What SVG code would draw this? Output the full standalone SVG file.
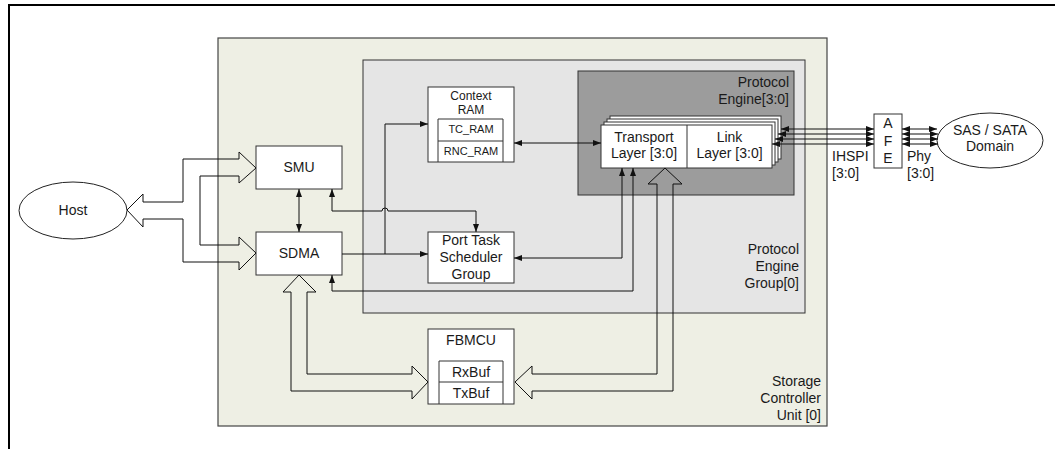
<svg xmlns="http://www.w3.org/2000/svg" width="1055" height="449" viewBox="0 0 1055 449">
<style>
text{font-family:"Liberation Sans",Arial,sans-serif;font-size:14px;fill:#1a1a1a}
.c{text-anchor:middle}
.r{text-anchor:end}
.box{fill:#fff;stroke:#333;stroke-width:1}
.ln{fill:none;stroke:#111;stroke-width:1}
.big{fill:none;stroke:#111;stroke-width:1}
.s11{font-size:11px}
.s12{font-size:12px}
</style>
<defs>
<marker id="ah" markerUnits="userSpaceOnUse" markerWidth="9" markerHeight="7" refX="8" refY="3" orient="auto-start-reverse">
<path d="M0,0 L8,3 L0,6 z" fill="#111"/>
</marker>
</defs>
<rect x="0" y="0" width="1055" height="449" fill="#fff"/>
<path d="M9,449 V5 H1055" fill="none" stroke="#000" stroke-width="2"/>

<g id="scu">
<rect x="218" y="38" width="609" height="388" fill="#EEEFE4" stroke="#444" stroke-width="1.2"/>
<text class="r" x="821" y="386">Storage</text>
<text class="r" x="821" y="403">Controller</text>
<text class="r" x="821" y="420">Unit [0]</text>
</g>

<g id="peg">
<rect x="363" y="60" width="442" height="253" fill="#E5E5E5" stroke="#333" stroke-width="1"/>
<text class="r" x="799" y="254">Protocol</text>
<text class="r" x="799" y="271">Engine</text>
<text class="r" x="799" y="288">Group[0]</text>
</g>

<g id="pe">
<rect x="578" y="71" width="216" height="124" fill="#9C9C9C" stroke="#333" stroke-width="1"/>
<text class="r" x="789" y="87">Protocol</text>
<text class="r" x="789" y="104">Engine[3:0]</text>
</g>

<g id="host">
<ellipse cx="73" cy="210.5" rx="54" ry="28.5" fill="#fff" stroke="#222" stroke-width="1"/>
<text class="c" x="73" y="215">Host</text>
</g>

<g id="sas">
<ellipse cx="990" cy="140.5" rx="53" ry="27.5" fill="#fff" stroke="#222" stroke-width="1"/>
<text class="c" x="990" y="135">SAS / SATA</text>
<text class="c" x="990" y="151">Domain</text>
</g>

<g id="smu">
<rect class="box" x="256" y="146" width="86" height="43"/>
<text class="c" x="299" y="172">SMU</text>
</g>

<g id="sdma">
<rect class="box" x="256" y="232" width="86" height="43"/>
<text class="c" x="299" y="258">SDMA</text>
</g>

<g id="context-ram">
<rect class="box" x="428" y="87" width="86" height="75"/>
<text class="c s12" x="471" y="100">Context</text>
<text class="c s12" x="471" y="114">RAM</text>
<path d="M438,162 V119 H503 V162 M438,141 H503" fill="none" stroke="#333" stroke-width="1"/>
<text class="c s11" x="471" y="133">TC_RAM</text>
<text class="c s11" x="471" y="155">RNC_RAM</text>
</g>

<g id="pts">
<rect class="box" x="428" y="232" width="86" height="51"/>
<text class="c" x="471" y="245">Port Task</text>
<text class="c" x="471" y="262">Scheduler</text>
<text class="c" x="471" y="279">Group</text>
</g>

<g id="fbmcu">
<rect class="box" x="428" y="329" width="86" height="75"/>
<text class="c" x="471" y="345">FBMCU</text>
<path d="M439,404 V361 H503 V404 M439,382 H503" fill="none" stroke="#333" stroke-width="1"/>
<text class="c" x="471" y="377">RxBuf</text>
<text class="c" x="471" y="398">TxBuf</text>
</g>

<g id="layers">
<rect class="box" x="610" y="116" width="171" height="43"/>
<rect class="box" x="607" y="119" width="171" height="43"/>
<rect class="box" x="604" y="122" width="171" height="43"/>
<rect class="box" x="601" y="125" width="171" height="43"/>
<line x1="687" y1="125" x2="687" y2="168" stroke="#333"/>
<text class="c" x="644" y="142">Transport</text>
<text class="c" x="644" y="158">Layer [3:0]</text>
<text class="c" x="729.5" y="142">Link</text>
<text class="c" x="729.5" y="158">Layer [3:0]</text>
</g>

<g id="afe">
<rect class="box" x="874" y="114" width="28" height="54"/>
<text class="c" x="888" y="128">A</text>
<text class="c" x="888" y="146">F</text>
<text class="c" x="888" y="163">E</text>
</g>

<g id="labels">
<text x="832" y="161">IHSPI</text>
<text x="832" y="178">[3:0]</text>
<text x="907" y="161">Phy</text>
<text x="907" y="178">[3:0]</text>
</g>

<g id="connectors">
<path class="big" d="M127,210 L143,194 L143,202 L183,202 L183,159 L239,159 L239,152 L256,168 L239,183 L239,176 L200,176 L200,245 L239,245 L239,237 L256,253 L239,270 L239,262 L183,262 L183,219 L143,219 L143,227 Z"/>
<path class="big" d="M291,292 L283,292 L299,275 L316,292 L307,292 L307,374 L412,374 L412,366 L428,382 L412,399 L412,391 L291,391 Z"/>
<path class="big" d="M657,184 L648,184 L665,168 L682,184 L673,184 L673,391 L532,391 L532,399 L515,382 L532,366 L532,374 L657,374 Z"/>
<path class="ln" d="M299,189 V232" marker-start="url(#ah)" marker-end="url(#ah)"/>
<path class="ln" d="M332,189 V211 H382 A3,3 0 0 1 388,211 H476 V232" marker-start="url(#ah)" marker-end="url(#ah)"/>
<path class="ln" d="M342,254 H428" marker-end="url(#ah)"/>
<path class="ln" d="M385,254 V124 H428" marker-end="url(#ah)"/>
<path class="ln" d="M514,143 H601" marker-start="url(#ah)" marker-end="url(#ah)"/>
<path class="ln" d="M622,168 V258 H514" marker-start="url(#ah)" marker-end="url(#ah)"/>
<path class="ln" d="M633,168 V291 H332 V275" marker-start="url(#ah)" marker-end="url(#ah)"/>
<path class="ln" d="M781,129 H874" marker-start="url(#ah)" marker-end="url(#ah)"/>
<path class="ln" d="M778,134 H874" marker-start="url(#ah)" marker-end="url(#ah)"/>
<path class="ln" d="M775,139 H874" marker-start="url(#ah)" marker-end="url(#ah)"/>
<path class="ln" d="M772,144 H874" marker-start="url(#ah)" marker-end="url(#ah)"/>
<path class="ln" d="M902,129 H937" marker-start="url(#ah)" marker-end="url(#ah)"/>
<path class="ln" d="M902,134 H938" marker-start="url(#ah)" marker-end="url(#ah)"/>
<path class="ln" d="M902,139 H938" marker-start="url(#ah)" marker-end="url(#ah)"/>
<path class="ln" d="M902,144 H938" marker-start="url(#ah)" marker-end="url(#ah)"/>
</g>
</svg>
